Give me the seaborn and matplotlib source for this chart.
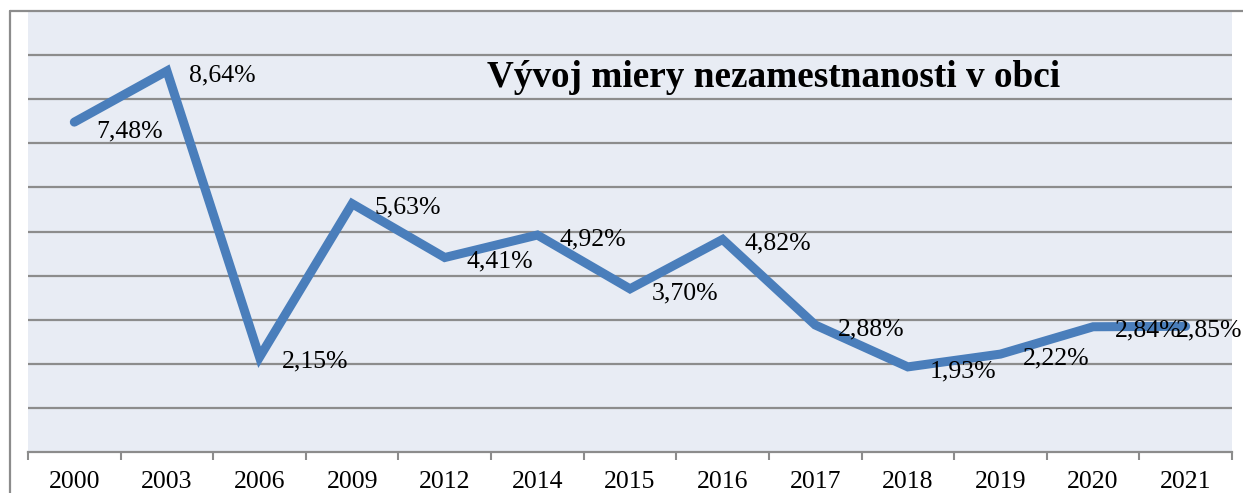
import pandas as pd
import seaborn as sns
import matplotlib.pyplot as plt
from matplotlib.lines import Line2D

# data
years = ['2000', '2003', '2006', '2009', '2012', '2014', '2015',
         '2016', '2017', '2018', '2019', '2020', '2021']
rates = [7.48, 8.64, 2.15, 5.63, 4.41, 4.92, 3.70, 4.82, 2.88, 1.93, 2.22, 2.84, 2.85]
title = 'Vývoj miery nezamestnanosti v obci'

df = pd.DataFrame({'rok': years, 'miera': rates})

sns.set_style('white')
plt.rcParams['font.family'] = ['Liberation Serif', 'DejaVu Serif']
plt.rcParams['text.color'] = 'black'
plt.rcParams['xtick.color'] = 'black'
plt.rcParams['xtick.labelcolor'] = 'black'

fig = plt.figure(figsize=(12.43, 4.93), dpi=100)
ax = fig.add_axes([28 / 1243, 41 / 493, 1204 / 1243, 441 / 493])
ax.set_facecolor('#E8ECF4')

sns.lineplot(data=df, x='rok', y='miera', ax=ax, sort=False,
             color='#4A7EBB', linewidth=6.5, solid_capstyle='round',
             solid_joinstyle='miter')

ax.set_xlim(-0.5, len(years) - 0.5)
ax.set_ylim(0, 10)
ax.set_yticks(range(1, 10))
ax.yaxis.grid(True, color='#8C8C8C', linewidth=1.6)
ax.set_axisbelow(True)
ax.tick_params(axis='y', left=False, labelleft=False)
ax.set_xticks(range(len(years)))
ax.set_xticklabels(years, fontsize=18.5, color='black')
ax.set_xticks([i - 0.5 for i in range(len(years) + 1)], minor=True)
ax.tick_params(axis='x', which='major', length=0, pad=14)
ax.tick_params(axis='x', which='minor', length=6, width=1.5,
               color='#8C8C8C', direction='out', bottom=True)
ax.set_xlabel('')
ax.set_ylabel('')
for s in ['top', 'left', 'right']:
    ax.spines[s].set_visible(False)
ax.spines['bottom'].set_color('#8C8C8C')
ax.spines['bottom'].set_linewidth(1.6)

# popisky hodnot
for i, v in enumerate(rates):
    txt = f'{v:.2f}%'.replace('.', ',')
    dy = -3
    if i == 0:
        dy = -7
    if i == len(rates) - 1:
        ax.annotate(txt, (i, v), xytext=(-7, dy), textcoords='offset points',
                    ha='left', va='center', fontsize=18.5, color='black')
    else:
        ax.annotate(txt, (i, v), xytext=(16, dy), textcoords='offset points',
                    ha='left', va='center', fontsize=18.5, color='black')

ax.text(0.381, 0.85, title, transform=ax.transAxes, fontsize=26.8,
        fontweight='bold', ha='left', va='center', color='black')

# ramik grafu
fig.add_artist(Line2D([10 / 1243, 10 / 1243], [0, 482 / 493],
                      color='#8C8C8C', linewidth=1.6))
fig.add_artist(Line2D([10 / 1243, 1], [482 / 493, 482 / 493],
                      color='#8C8C8C', linewidth=1.6))

fig.savefig('out.png', dpi=100)
